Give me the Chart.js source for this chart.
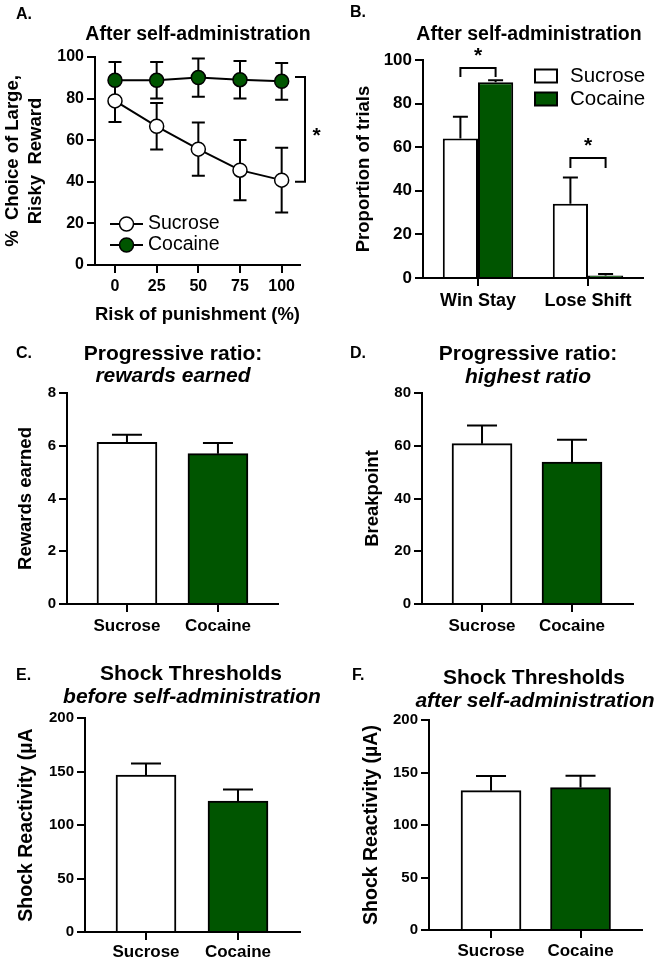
<!DOCTYPE html>
<html>
<head>
<meta charset="utf-8">
<script src="https://cdn.jsdelivr.net/npm/chart.js@4.4.0/dist/chart.umd.min.js"></script>
<style>
  body { margin: 0; background: #fff; }
  #fig { position: relative; width: 655px; height: 962px; font-family: "Liberation Sans", Arial, sans-serif; color: #000; }
  canvas { position: absolute; }
  .tit { position: absolute; transform: translate(-50%, -50%); white-space: nowrap; font-weight: bold; }
  .sub { font-style: italic; }
  .letra { position: absolute; transform: translateY(-50%); font-weight: bold; font-size: 16px; }
</style>
</head>
<body>
<div id="fig">
  <canvas id="chartA" width="330" height="330" style="left:0;top:0"></canvas>
  <canvas id="chartB" width="325" height="330" style="left:330px;top:0"></canvas>
  <canvas id="chartC" width="330" height="310" style="left:0;top:330px"></canvas>
  <canvas id="chartD" width="325" height="310" style="left:330px;top:330px"></canvas>
  <canvas id="chartE" width="330" height="322" style="left:0;top:640px"></canvas>
  <canvas id="chartF" width="325" height="322" style="left:330px;top:640px"></canvas>

  <!-- Letras dos painéis -->
  <div class="letra" style="left:16px;top:14px">A.</div>
  <div class="letra" style="left:350px;top:12px">B.</div>
  <div class="letra" style="left:16px;top:353px">C.</div>
  <div class="letra" style="left:350px;top:353px">D.</div>
  <div class="letra" style="left:16px;top:675px">E.</div>
  <div class="letra" style="left:352px;top:675px">F.</div>

  <!-- Títulos -->
  <div class="tit" style="left:198px;top:33px;font-size:19.5px">After self-administration</div>
  <div class="tit" style="left:529px;top:33px;font-size:19.5px">After self-administration</div>
  <div class="tit" style="left:173px;top:353px;font-size:21px">Progressive ratio:</div>
  <div class="tit sub" style="left:173px;top:375px;font-size:21px">rewards earned</div>
  <div class="tit" style="left:528px;top:353px;font-size:21px">Progressive ratio:</div>
  <div class="tit sub" style="left:528px;top:376px;font-size:21px">highest ratio</div>
  <div class="tit" style="left:191px;top:673px;font-size:21px">Shock Thresholds</div>
  <div class="tit sub" style="left:192px;top:696px;font-size:21px">before self-administration</div>
  <div class="tit" style="left:534px;top:677px;font-size:21px">Shock Thresholds</div>
  <div class="tit sub" style="left:535px;top:700px;font-size:21px">after self-administration</div>
</div>

<script>
Chart.defaults.font.family = '"Liberation Sans", Arial, sans-serif';
Chart.defaults.color = '#000';
const GREEN = '#005500';

// ---- Painel A: escolha arriscada x risco de punição
const riskLevels = [0, 25, 50, 75, 100];
const sucroseChoice = [78.9, 66.7, 55.7, 45.6, 40.8];
const sucroseChoiceErr = [10.1, 11.2, 12.8, 14.5, 15.6];
const cocaineChoice = [88.8, 88.8, 90.1, 89.1, 88.3];
const cocaineChoiceErr = [8.8, 8.8, 9.2, 9.0, 8.8];
const choiceTicks = [0, 20, 40, 60, 80, 100];
const choiceBracketX = [108, 114];   // colchete (unidades do eixo x)
const choiceBracketY = [90.4, 40];   // colchete (unidades do eixo y)
const choiceStar = [121, 64];

// ---- Painel B: win-stay / lose-shift
const strategyLabels = ['Win Stay', 'Lose Shift'];
const sucroseStrategy = [64.0, 34.1];
const sucroseStrategyErr = [10.0, 12.0];
const cocaineStrategy = [89.8, 1.2];
const cocaineStrategyErr = [0.9, 0.6];
const trialTicks = [0, 20, 40, 60, 80, 100];
const strategyBracketTop = [96.3, 55.0];
const strategyBracketDrop = [92.2, 50.5];
const strategyStar = [103.5, 62.5];

// ---- Painéis C a F: sacarose x cocaína
const groupLabels = ['Sucrose', 'Cocaine'];
const rewardsEarned = [6.13, 5.70];
const rewardsEarnedErr = [0.29, 0.40];
const rewardsTicks = [0, 2, 4, 6, 8];
const breakpoint = [60.8, 53.8];
const breakpointErr = [6.9, 8.5];
const breakpointTicks = [0, 20, 40, 60, 80];
const shockBefore = [146.6, 122.4];
const shockBeforeErr = [10.9, 10.8];
const shockAfter = [132.7, 135.6];
const shockAfterErr = [14.0, 11.4];
const shockTicks = [0, 50, 100, 150, 200];

const val = d => (typeof d === 'object' ? d.y : d);

// Barras de erro desenhadas com as escalas do próprio gráfico
const errorBars = {
    id: 'errorBars',
    beforeDatasetsDraw(chart) {
        const ctx = chart.ctx;
        const yScale = chart.scales.y;
        chart.data.datasets.forEach((ds, i) => {
            if (!ds.errPlus) return;
            const meta = chart.getDatasetMeta(i);
            const half = ds.errCap / 2;
            ctx.save();
            ctx.strokeStyle = '#000';
            ctx.lineWidth = 2;
            meta.data.forEach((el, j) => {
                const v = val(ds.data[j]);
                const top = yScale.getPixelForValue(v + ds.errPlus[j]);
                const bot = yScale.getPixelForValue(ds.errBoth ? v - ds.errPlus[j] : v);
                ctx.beginPath();
                ctx.moveTo(el.x, bot);
                ctx.lineTo(el.x, top);
                ctx.moveTo(el.x - half, top);
                ctx.lineTo(el.x + half, top);
                if (ds.errBoth) {
                    ctx.moveTo(el.x - half, bot);
                    ctx.lineTo(el.x + half, bot);
                }
                ctx.stroke();
            });
            ctx.restore();
        });
    }
};
Chart.register(errorBars);

// Estilo comum dos eixos (linhas pretas, sem grade)
function axisBase(tickSize, tickPad) {
    return {
        ticks: { color: '#000', font: { size: tickSize, weight: 'bold' }, padding: tickPad },
        grid: { display: true, drawOnChartArea: false, drawTicks: true, tickLength: 8, color: '#000', lineWidth: 2, offset: false },
        border: { display: true, color: '#000', width: 2 }
    };
}

function fixedTicks(list) {
    return scale => { scale.ticks = list.map(v => ({ value: v })); };
}

// ---------------- Painel A
new Chart(document.getElementById('chartA'), {
    type: 'line',
    data: {
        datasets: [
            {
                label: 'Sucrose',
                data: riskLevels.map((x, i) => ({ x: x, y: sucroseChoice[i] })),
                errPlus: sucroseChoiceErr, errBoth: true, errCap: 13,
                borderColor: '#000', borderWidth: 2,
                pointRadius: 7, pointBackgroundColor: '#fff', pointBorderColor: '#000', pointBorderWidth: 1.5,
                order: 2
            },
            {
                label: 'Cocaine',
                data: riskLevels.map((x, i) => ({ x: x, y: cocaineChoice[i] })),
                errPlus: cocaineChoiceErr, errBoth: true, errCap: 13,
                borderColor: '#000', borderWidth: 2,
                pointRadius: 7, pointBackgroundColor: GREEN, pointBorderColor: '#000', pointBorderWidth: 1.5,
                order: 1
            }
        ]
    },
    options: {
        responsive: false,
        animation: false,
        layout: { padding: { left: 2, right: 30, top: 57, bottom: 4 } },
        plugins: { legend: { display: false }, tooltip: { enabled: false } },
        scales: {
            x: Object.assign(axisBase(16, 4), {
                type: 'linear', min: -12, max: 111, bounds: 'data',
                afterBuildTicks: fixedTicks(riskLevels),
                afterFit: s => { s.height = 61; },
                title: { display: true, text: 'Risk of punishment (%)', color: '#000', font: { size: 18.5, weight: 'bold' }, padding: 0 }
            }),
            y: Object.assign(axisBase(16, 3), {
                min: 0, max: 100,
                afterBuildTicks: fixedTicks(choiceTicks),
                afterFit: s => { s.width = 93; },
                title: { display: true, text: ['%  Choice of Large,', 'Risky  Reward'], color: '#000', font: { size: 18.5, weight: 'bold', lineHeight: 1.22 }, padding: 0 }
            })
        }
    },
    plugins: [{
        id: 'extrasA',
        afterDraw(chart) {
            const ctx = chart.ctx;
            const xs = chart.scales.x, ys = chart.scales.y;
            ctx.save();
            // colchete de significância
            ctx.strokeStyle = '#000';
            ctx.lineWidth = 2;
            const x1 = xs.getPixelForValue(choiceBracketX[0]), x2 = xs.getPixelForValue(choiceBracketX[1]);
            const y1 = ys.getPixelForValue(choiceBracketY[0]), y2 = ys.getPixelForValue(choiceBracketY[1]);
            ctx.beginPath();
            ctx.moveTo(x1, y1); ctx.lineTo(x2, y1); ctx.lineTo(x2, y2); ctx.lineTo(x1, y2);
            ctx.stroke();
            ctx.fillStyle = '#000';
            ctx.font = 'bold 21px "Liberation Sans", Arial, sans-serif';
            ctx.textAlign = 'center';
            ctx.textBaseline = 'middle';
            ctx.fillText('*', xs.getPixelForValue(choiceStar[0]), ys.getPixelForValue(choiceStar[1]) + 4);
            // legenda dentro da área do gráfico
            ctx.font = '19.5px "Liberation Sans", Arial, sans-serif';
            ctx.textAlign = 'left';
            chart.data.datasets.forEach((ds, i) => {
                const y = 224 + i * 21;
                ctx.strokeStyle = '#000';
                ctx.lineWidth = 2;
                ctx.beginPath(); ctx.moveTo(110, y); ctx.lineTo(143, y); ctx.stroke();
                ctx.beginPath(); ctx.arc(126.5, y, 7, 0, 2 * Math.PI);
                ctx.fillStyle = ds.pointBackgroundColor; ctx.fill();
                ctx.lineWidth = 1.5; ctx.stroke();
                ctx.fillStyle = '#000';
                ctx.fillText(ds.label, 148, y);
            });
            ctx.restore();
        }
    }]
});

// ---------------- Painel B
new Chart(document.getElementById('chartB'), {
    type: 'bar',
    data: {
        labels: strategyLabels,
        datasets: [
            { label: 'Sucrose', data: sucroseStrategy, errPlus: sucroseStrategyErr, errCap: 15, backgroundColor: '#fff', borderColor: '#000', borderWidth: 2 },
            { label: 'Cocaine', data: cocaineStrategy, errPlus: cocaineStrategyErr, errCap: 15, backgroundColor: GREEN, borderColor: '#000', borderWidth: 2 }
        ]
    },
    options: {
        responsive: false,
        animation: false,
        categoryPercentage: 0.64,
        barPercentage: 1.0,
        layout: { padding: { left: 23, right: 12, top: 60, bottom: 4 } },
        plugins: { legend: { display: false }, tooltip: { enabled: false } },
        scales: {
            x: Object.assign(axisBase(18, 4), {
                afterFit: s => { s.height = 48; }
            }),
            y: Object.assign(axisBase(17, 3), {
                min: 0, max: 100,
                afterBuildTicks: fixedTicks(trialTicks),
                afterFit: s => { s.width = 70; },
                title: { display: true, text: 'Proportion of trials', color: '#000', font: { size: 18.5, weight: 'bold' }, padding: 0 }
            })
        }
    },
    plugins: [{
        id: 'extrasB',
        afterDraw(chart) {
            const ctx = chart.ctx;
            const ys = chart.scales.y;
            const m0 = chart.getDatasetMeta(0), m1 = chart.getDatasetMeta(1);
            ctx.save();
            ctx.strokeStyle = '#000';
            ctx.fillStyle = '#000';
            ctx.lineWidth = 2;
            ctx.font = 'bold 21px "Liberation Sans", Arial, sans-serif';
            ctx.textAlign = 'center';
            ctx.textBaseline = 'middle';
            strategyBracketTop.forEach((t, k) => {
                const x1 = m0.data[k].x, x2 = m1.data[k].x;
                const yt = ys.getPixelForValue(t), yd = ys.getPixelForValue(strategyBracketDrop[k]);
                ctx.beginPath();
                ctx.moveTo(x1, yd); ctx.lineTo(x1, yt); ctx.lineTo(x2, yt); ctx.lineTo(x2, yd);
                ctx.stroke();
                ctx.fillText('*', (x1 + x2) / 2, ys.getPixelForValue(strategyStar[k]) + 4);
            });
            // legenda
            ctx.font = '20.5px "Liberation Sans", Arial, sans-serif';
            ctx.textAlign = 'left';
            chart.data.datasets.forEach((ds, i) => {
                const y = 76 + i * 23;
                ctx.fillStyle = ds.backgroundColor;
                ctx.fillRect(205, y - 6.5, 22, 13);
                ctx.strokeRect(205, y - 6.5, 22, 13);
                ctx.fillStyle = '#000';
                ctx.fillText(ds.label, 240, y);
            });
            ctx.restore();
        }
    }]
});

// ---------------- Painéis C-F (mesmo formato)
function groupBarChart(id, values, errs, yMax, yTicks, yTitle, titleSize, xMin, xMax, pad, yWidth, xHeight, tickPad) {
    return new Chart(document.getElementById(id), {
        type: 'bar',
        data: {
            datasets: [{
                label: yTitle,
                data: values.map((v, i) => ({ x: i + 1, y: v })),
                errPlus: errs, errCap: 30,
                backgroundColor: ['#fff', GREEN],
                borderColor: '#000',
                borderWidth: 2,
                barThickness: 60
            }]
        },
        options: {
            responsive: false,
            animation: false,
            layout: { padding: pad },
            plugins: { legend: { display: false }, tooltip: { enabled: false } },
            scales: {
                x: Object.assign(axisBase(17, tickPad), {
                    type: 'linear', min: xMin, max: xMax, bounds: 'data', offset: false,
                    afterBuildTicks: fixedTicks([1, 2]),
                    afterFit: s => { s.height = xHeight; }
                }),
                y: Object.assign(axisBase(15, 3), {
                    min: 0, max: yMax,
                    afterBuildTicks: fixedTicks(yTicks),
                    afterFit: s => { s.width = yWidth; },
                    title: { display: true, text: yTitle, color: '#000', font: { size: titleSize, weight: 'bold' }, padding: 0 }
                })
            }
        }
    });
}

// rótulos do eixo x vêm de groupLabels
function labelCallbacks(chart) {
    chart.options.scales.x.ticks.callback = v => groupLabels[v - 1] || '';
    chart.update();
}

labelCallbacks(groupBarChart('chartC', rewardsEarned, rewardsEarnedErr, 8, rewardsTicks, 'Rewards earned', 18.5,
    0.341, 2.66, { left: 15, right: 52, top: 63, bottom: 0 }, 52, 36, 4));
labelCallbacks(groupBarChart('chartD', breakpoint, breakpointErr, 80, breakpointTicks, 'Breakpoint', 18.5,
    0.333, 2.678, { left: 32, right: 22, top: 63, bottom: 0 }, 60, 36, 4));
labelCallbacks(groupBarChart('chartE', shockBefore, shockBeforeErr, 200, shockTicks, 'Shock Reactivity (µA', 19.5,
    0.337, 2.674, { left: 15, right: 30, top: 78, bottom: 0 }, 70, 30, 2));
labelCallbacks(groupBarChart('chartF', shockAfter, shockAfterErr, 200, shockTicks, 'Shock Reactivity (µA)', 19.5,
    0.307, 2.687, { left: 30, right: 13, top: 80, bottom: 0 }, 69, 32, 3));
</script>
</body>
</html>
